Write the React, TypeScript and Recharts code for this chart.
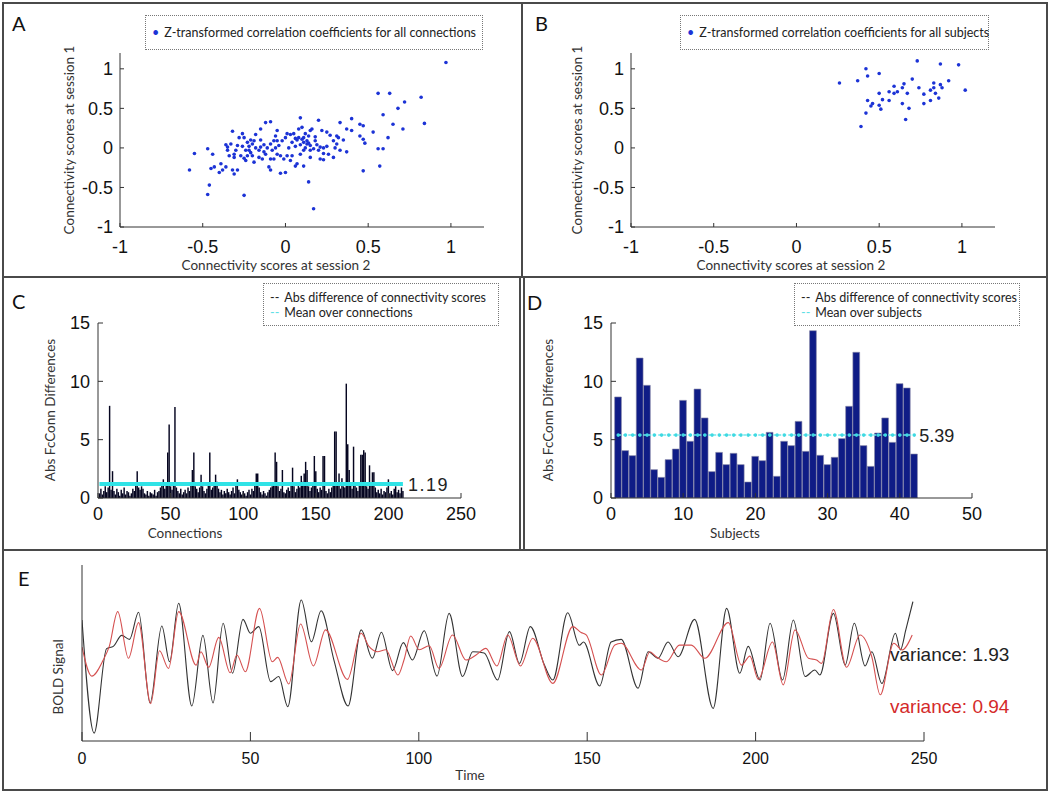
import React from 'react';
import {
  ScatterChart,
  Scatter,
  ComposedChart,
  Bar,
  Line,
  LineChart,
  XAxis,
  YAxis,
  Label,
  LabelList,
  Legend,
} from 'recharts';

// A: z-transformed correlation per connection, [session 2, session 1]
const connectionScores: [number, number][] = [
  [0.97, 1.08], [0.56, 0.69], [0.63, 0.69], [0.82, 0.64], [0.72, 0.58], [0.68, 0.5], [0.59, 0.42], [0.84, 0.31],
  [0.65, 0.3], [0.71, 0.24], [0.53, 0.2], [0.62, 0.13], [0.56, -0.01], [0.59, -0.01], [0.57, -0.23], [0.47, -0.29],
  [0.47, 0.11], [0.48, 0.06], [0.45, 0.15], [0.47, 0.28], [0.45, 0.3], [0.4, 0.37], [0.4, 0.22], [0.37, 0.24],
  [0.33, 0.32], [0.37, -0.05], [0.35, 0.1], [0.31, 0.15], [0.32, 0.13], [0.31, 0.05], [0.29, 0.09], [0.3, 0.0],
  [0.27, 0.16], [0.25, 0.2], [0.25, 0.02], [0.23, 0.0], [0.22, 0.22], [0.2, 0.35], [0.21, -0.14], [0.23, -0.15],
  [0.2, -0.03], [0.19, 0.04], [0.17, -0.01], [0.17, -0.77], [0.14, -0.43], [0.11, -0.23], [0.09, 0.38], [0.1, 0.26],
  [0.08, 0.24], [0.11, 0.13], [0.13, 0.09], [0.14, 0.15], [0.15, 0.22], [0.16, 0.24], [0.13, 0.05], [0.15, 0.03],
  [0.12, 0.0], [0.15, -0.12], [0.11, -0.03], [0.09, 0.04], [0.07, 0.1], [0.06, 0.02], [0.05, 0.18], [0.03, 0.17],
  [0.01, 0.18], [0.04, 0.07], [0.02, 0.0], [0.01, -0.1], [0.03, -0.16], [0.06, -0.23], [0.07, -0.2], [-0.01, -0.14],
  [0.0, -0.31], [-0.03, -0.32], [-0.03, -0.1], [-0.05, -0.08], [-0.05, 0.09], [-0.06, 0.0], [-0.07, 0.09], [-0.09, 0.33],
  [-0.12, 0.32], [-0.09, 0.05], [-0.11, 0.0], [-0.12, -0.08], [-0.09, -0.14], [-0.07, -0.14], [-0.1, -0.24], [-0.09, -0.28],
  [-0.14, -0.14], [-0.15, 0.1], [-0.15, 0.01], [-0.16, -0.03], [-0.18, 0.0], [-0.19, 0.09], [-0.2, 0.05], [-0.21, 0.1],
  [-0.22, -0.03], [-0.2, -0.1], [-0.19, -0.18], [-0.23, -0.1], [-0.24, -0.16], [-0.25, -0.13], [-0.24, -0.03], [-0.23, 0.07],
  [-0.25, 0.13], [-0.26, 0.02], [-0.28, 0.13], [-0.29, 0.03], [-0.3, -0.03], [-0.31, -0.08], [-0.31, -0.12], [-0.29, -0.28],
  [-0.31, -0.33], [-0.32, -0.28], [-0.32, 0.21], [-0.34, -0.1], [-0.35, 0.01], [-0.35, -0.03], [-0.36, 0.04], [-0.36, -0.24],
  [-0.38, -0.28], [-0.39, -0.2], [-0.4, -0.31], [-0.43, -0.24], [-0.44, -0.08], [-0.45, -0.26], [-0.47, -0.01], [-0.46, -0.47],
  [-0.47, -0.59], [-0.25, -0.6], [-0.55, -0.07], [-0.58, -0.28], [-0.15, 0.24], [-0.18, 0.17], [-0.26, 0.18], [-0.22, 0.02],
  [-0.13, 0.04], [-0.05, 0.22], [-0.02, 0.09], [0.09, -0.08], [0.04, -0.1], [0.23, -0.07], [0.26, -0.08], [0.29, -0.12],
  [0.33, -0.03], [0.18, 0.09], [0.21, 0.01], [0.15, -0.03], [0.11, 0.07], [0.08, 0.13], [-0.06, 0.15], [-0.08, -0.03],
  [-0.16, -0.12], [-0.27, -0.1], [0.12, 0.18], [0.1, 0.11], [0.14, 0.06], [0.18, 0.14], [0.06, 0.12], [-0.04, 0.03],
  [0.0, 0.13], [-0.13, -0.05], [-0.21, -0.06], [-0.33, 0.05],
];

// B: z-transformed correlation per subject, [session 2, session 1]
const subjectScores: [number, number][] = [
  [0.26, 0.82], [0.37, 0.85], [0.42, 1.0], [0.43, 0.91], [0.5, 0.94], [0.73, 1.1], [0.87, 1.06], [0.98, 1.05],
  [1.02, 0.73], [0.92, 0.85], [0.7, 0.87], [0.74, 0.76], [0.77, 0.68], [0.77, 0.56], [0.81, 0.73], [0.83, 0.82],
  [0.83, 0.76], [0.84, 0.69], [0.81, 0.6], [0.86, 0.63], [0.87, 0.8], [0.88, 0.76], [0.65, 0.81], [0.64, 0.76],
  [0.61, 0.71], [0.59, 0.78], [0.59, 0.69], [0.56, 0.71], [0.56, 0.6], [0.67, 0.69], [0.64, 0.56], [0.68, 0.5],
  [0.66, 0.36], [0.5, 0.69], [0.5, 0.54], [0.52, 0.61], [0.51, 0.49], [0.46, 0.56], [0.45, 0.53], [0.43, 0.6],
  [0.42, 0.44], [0.39, 0.27],
];

// C: abs difference per connection (1..210)
const connectionDiffs = [
  0.4, 0.8, 0.3, 0.6, 1.0, 0.5, 0.9, 7.9, 0.7, 2.3,
  0.6, 0.3, 0.8, 0.5, 0.2, 0.7, 0.4, 0.9, 0.3, 0.6,
  0.5, 0.2, 0.4, 0.8, 0.6, 1.1, 2.3, 0.9, 0.7, 1.0,
  0.8, 0.4, 0.3, 0.6, 0.2, 0.5, 0.4, 0.3, 0.7, 0.2,
  0.5, 0.6, 0.9, 1.2, 1.6, 0.8, 1.1, 3.9, 6.3, 1.0,
  0.7, 1.2, 7.8, 0.9, 0.6, 0.4, 0.8, 0.3, 0.5, 0.7,
  0.4, 0.9, 0.6, 1.3, 2.4, 3.9, 1.0, 0.8, 0.5, 0.9,
  2.0, 1.0, 0.6, 0.4, 0.8, 1.1, 3.9, 0.7, 0.9, 1.2,
  2.0, 1.4, 0.8, 0.5, 0.7, 0.3, 0.6, 0.4, 0.8, 0.5,
  0.3, 0.6, 0.9, 0.4, 1.2, 1.6, 0.7, 0.5, 0.3, 0.6,
  0.4, 0.2, 0.5, 0.7, 0.3, 0.8, 0.6, 1.1, 2.1, 2.1,
  0.9, 0.5, 0.3, 0.6, 0.4, 0.2, 0.5, 0.7, 0.9, 1.0,
  1.2, 3.9, 3.1, 1.0, 0.6, 0.8, 2.4, 0.5, 0.4, 0.7,
  0.9, 0.6, 1.1, 2.6, 1.0, 0.5, 0.8, 1.2, 0.9, 1.9,
  1.4, 2.1, 3.1, 2.4, 1.0, 0.6, 0.9, 1.3, 3.6, 2.3,
  0.8, 0.5, 0.9, 0.7, 3.6, 3.6, 0.6, 0.4, 0.8, 0.5,
  0.9, 1.3, 5.7, 5.7, 1.2, 2.1, 0.8, 1.7, 1.0, 0.9,
  9.8, 4.6, 2.4, 1.1, 0.8, 4.4, 1.3, 0.9, 0.6, 1.2,
  3.7, 3.7, 4.1, 3.9, 1.0, 0.8, 2.8, 1.1, 2.2, 2.2,
  0.9, 0.5, 0.7, 0.4, 0.8, 0.3, 0.6, 0.5, 0.9, 1.6,
  0.4, 0.6, 0.3, 0.8, 1.0, 0.5, 0.7, 0.4, 0.9, 0.6,
];
const connectionMean = 1.19;

// D: abs difference per subject (1..42)
const subjectDiffs = [
  8.66, 4.06, 3.63, 12.0, 9.66, 2.43, 1.77, 3.29, 4.2, 8.37,
  4.86, 9.34, 6.86, 2.26, 3.91, 2.86, 3.83, 2.86, 1.37, 3.57,
  3.2, 5.63, 1.86, 4.86, 4.49, 6.57, 4.0, 14.34, 3.66, 2.86,
  3.49, 5.09, 7.86, 12.49, 4.49, 2.71, 5.57, 6.86, 4.77, 9.8,
  9.43, 3.77,
];
const subjectMean = 5.39;

// E: BOLD signal turning points, [time, signal]
const boldSession1: [number, number][] = [
  [0, 1.5], [3.6, -3.64], [7.3, 0.2], [9.3, 0.3], [11.8, 0.8], [14.1, 0.62], [16.8, 1.85], [20.2, -2.27],
  [23.7, 1.23], [26, -0.4], [28.7, 2.26], [32.6, -2.41], [35.9, 0.8], [38.9, -2.27], [41.9, 1.35], [44.7, -0.92],
  [47.8, 1.53], [50, 0.9], [52.5, 1.2], [56, -1.3], [58.4, -1.07], [61.1, -2.44], [65.1, 2.41], [68.1, 0.51],
  [71, 1.92], [74.8, -0.32], [79, -2.41], [82.9, 1.05], [86.2, -0.24], [88.9, 0.94], [92.2, -0.8], [95.4, 0.47],
  [98.1, -0.32], [101.6, 1.01], [105.4, -1.05], [109, 1.8], [113, -1.07], [116, 0.06], [119.4, 0.0], [123.4, -1.23],
  [126.9, 0.97], [129.9, -0.47], [133.1, 1.2], [137.3, -0.55], [139.8, -1.23], [144.2, 1.83], [147.7, 0.35], [148.9, 0.5],
  [153.7, -1.5], [157.1, 0.5], [160.1, 0.62], [165.1, -1.6], [168.1, 0.06], [171, -0.24], [174, 0.5], [177, -0.17],
  [181.9, 1.53], [187.4, -2.52], [191.4, 2.03], [195.3, -0.92], [197.8, 0.3], [201.3, -1.23], [204.3, 1.35], [208, -1.23],
  [211.2, 1.5], [214.7, -1.07], [217.6, -0.77], [219.1, -1.0], [223.1, 1.8], [226.6, -0.55], [229.3, 1.35], [232.5, -0.59],
  [234.5, 0.06], [237.5, -1.38], [241.5, 0.9], [243, 0.14], [244.6, 1.05], [246.7, 2.33],
];
const boldSession2: [number, number][] = [
  [0, 0.27], [2.9, -1.05], [6.3, -0.32], [8.1, 0.3], [10.6, 1.88], [13.8, -0.24], [16.8, 1.38], [20.4, -2.3],
  [23, 0.1], [25.7, -0.7], [28.7, 1.88], [33.9, -0.55], [35.3, 0.06], [37.6, -0.65], [40.6, 0.71], [44, -0.9],
  [46, -0.09], [48.5, -0.85], [52.7, 2.03], [56.5, -0.4], [58.1, -0.2], [61.4, -1.41], [64.9, 1.32], [68.7, -0.59],
  [72.3, 1.05], [78.8, -1.2], [82.9, 0.9], [85.2, 0.3], [87.7, 0.06], [90.2, 0.15], [93.8, -1.0], [95.6, -0.32],
  [97.6, 0.77], [100.1, 0.15], [103.1, 0.33], [106, -0.7], [110, 0.82], [114, -0.32], [117, -0.09], [119.9, 0.21],
  [123.2, -0.59], [126.4, 0.82], [130.2, -0.59], [133.8, 0.67], [139.8, -1.38], [145.7, 1.2], [148.2, 0.93], [149.7, 0.82],
  [154.2, -1.0], [158.2, 0.36], [160.1, 0.44], [166.1, -0.77], [168.6, 0.06], [170.5, -0.17], [173.5, -0.4], [177.4, 0.36],
  [180.9, 0.36], [184.9, -0.24], [191.9, 1.38], [195.8, -0.55], [198.3, -0.14], [200.8, -1.2], [205, 0.5], [208.2, -1.45],
  [211.7, 1.05], [215.7, -0.24], [218.1, -0.32], [219.6, -0.47], [223.1, 1.98], [227, -0.65], [231, 0.82], [234.5, -0.17],
  [237, -1.9], [241, 0.44], [243.5, 0.14], [246.5, 0.82],
];
const varianceSession1 = 1.93;
const varianceSession2 = 0.94;

const scoreTicks = [-1, -0.5, 0, 0.5, 1];
const diffTicks = [0, 5, 10, 15];
const connTicks = [0, 50, 100, 150, 200, 250];
const subjTicks = [0, 10, 20, 30, 40, 50];
const timeTicks = [0, 50, 100, 150, 200, 250];

const SANS = '"Liberation Sans", Arial, sans-serif';
const TITLE = 'Lato, "Open Sans", sans-serif';
const tickFont = { fill: '#111', fontSize: 18, fontFamily: SANS };
const axisLine = { stroke: '#333' };

// axis title placed in chart coordinates
const title = (value: string, x: number, y: number, rotate = false) => (
  <Label
    content={() => (
      <text
        x={x}
        y={y}
        textAnchor="middle"
        dominantBaseline="central"
        transform={rotate ? `rotate(-90 ${x} ${y})` : undefined}
        style={{ fontFamily: TITLE, fontSize: 13.5, fill: '#333' }}
      >
        {value}
      </text>
    )}
  />
);

type LegendRow = { mark: string; color: string; text: string };
const LegendBox = ({ rows, width, height }: { rows: LegendRow[]; width: number; height: number }) => (
  <div
    style={{
      width,
      height,
      boxSizing: 'border-box',
      border: '1px dotted #777',
      background: '#fff',
      fontFamily: TITLE,
      fontSize: 12.5,
      color: '#222',
      display: 'flex',
      flexDirection: 'column',
      justifyContent: 'center',
      paddingLeft: 6,
    }}
  >
    {rows.map((r) => (
      <div key={r.text} style={{ lineHeight: '15px', whiteSpace: 'nowrap' }}>
        <span style={{ color: r.color, marginRight: 5 }}>{r.mark}</span>
        {r.text}
      </div>
    ))}
  </div>
);

const BlueDot = (props: any) => <circle cx={props.cx} cy={props.cy} r={1.8} fill="#1c33d6" />;

function ScatterPanel(props: {
  points: [number, number][];
  left: number;
  right: number;
  legendText: string;
  legendLeft: number;
  legendWidth: number;
  xTitle: [number, number];
  yTitle: [number, number];
}) {
  const data = props.points.map(([x, y]) => ({ x, y }));
  return (
    <ScatterChart width={props.left + props.right + 364} height={277} margin={{ top: 53, right: props.right, bottom: 0, left: props.left - 30 }}>
      <XAxis type="number" dataKey="x" domain={[-1, 1.2]} ticks={scoreTicks} allowDataOverflow height={50}
        tickSize={-4} tickMargin={17} tick={tickFont} axisLine={axisLine} tickLine={axisLine}>
        {title('Connectivity scores at session 2', props.xTitle[0], props.xTitle[1])}
      </XAxis>
      <XAxis xAxisId="top" orientation="top" type="number" domain={[-1, 1.2]} ticks={scoreTicks} allowDataOverflow
        height={0} tick={false} tickSize={-4} axisLine={axisLine} tickLine={axisLine} />
      <YAxis type="number" dataKey="y" domain={[-1, 1.2]} ticks={scoreTicks} allowDataOverflow width={30}
        tickSize={-4} tickMargin={11} tick={tickFont} axisLine={axisLine} tickLine={axisLine}>
        {title('Connectivity scores at session 1', props.yTitle[0], props.yTitle[1], true)}
      </YAxis>
      <YAxis yAxisId="right" orientation="right" type="number" domain={[-1, 1.2]} ticks={scoreTicks} allowDataOverflow
        width={0} tick={false} tickSize={-4} axisLine={axisLine} tickLine={axisLine} />
      <Scatter data={data} shape={BlueDot} isAnimationActive={false} />
      <Legend
        verticalAlign="middle"
        align="center"
        layout="horizontal"
        wrapperStyle={{ left: props.legendLeft, top: 15, width: props.legendWidth }}
        content={() => (
          <LegendBox width={props.legendWidth} height={35} rows={[{ mark: '•', color: '#1c33d6', text: props.legendText }]} />
        )}
      />
    </ScatterChart>
  );
}

function DiffPanel(props: {
  values: number[];
  mean: number;
  xMax: number;
  ticks: number[];
  left: number;
  right: number;
  barSize: number;
  barFill: string;
  barStroke?: string;
  dotted: boolean;
  xTitleText: string;
  xTitle: [number, number];
  yTitle: [number, number];
  legendLeft: number;
  legendWidth: number;
  legendMean: string;
}) {
  const last = props.values.length - 1;
  const rows = props.values.map((d, i) => ({
    id: i + 1,
    diff: d,
    mean: props.mean,
    meanText: i === last ? props.mean.toFixed(2) : undefined,
  }));
  const plotWidth = props.xMax === 250 ? 363 : 361;
  return (
    <ComposedChart data={rows} width={props.left + plotWidth + props.right} height={273}
      margin={{ top: 46, right: props.right, bottom: 0, left: props.left - 28 }}>
      <XAxis type="number" dataKey="id" domain={[0, props.xMax]} ticks={props.ticks} allowDataOverflow height={52}
        tickSize={-5} tickMargin={14} tick={tickFont} axisLine={axisLine} tickLine={axisLine}>
        {title(props.xTitleText, props.xTitle[0], props.xTitle[1])}
      </XAxis>
      <YAxis type="number" domain={[0, 15]} ticks={diffTicks} allowDataOverflow width={28}
        tickSize={-5} tickMargin={13} tick={tickFont} axisLine={axisLine} tickLine={axisLine}>
        {title('Abs FcConn Differences', props.yTitle[0], props.yTitle[1], true)}
      </YAxis>
      <Bar dataKey="diff" fill={props.barFill} stroke={props.barStroke} strokeWidth={props.barStroke ? 0.6 : 0}
        barSize={props.barSize} isAnimationActive={false} />
      <Line
        dataKey="mean"
        stroke={props.dotted ? '#6fe8ec' : '#2fe3e6'}
        strokeWidth={props.dotted ? 1.5 : 4}
        strokeDasharray={props.dotted ? '3 2' : undefined}
        dot={props.dotted ? { r: 1.8, fill: '#3fd9e2', stroke: 'none' } : false}
        isAnimationActive={false}
      >
        <LabelList dataKey="meanText" position="right" offset={5}
          style={{ fill: '#222', fontSize: 18, fontFamily: SANS, letterSpacing: props.dotted ? 0 : 1.5 }} />
      </Line>
      <Legend
        verticalAlign="middle"
        align="center"
        layout="horizontal"
        wrapperStyle={{ left: props.legendLeft, top: 6, width: props.legendWidth }}
        content={() => (
          <LegendBox
            width={props.legendWidth}
            height={43}
            rows={[
              { mark: '--', color: '#222', text: 'Abs difference of connectivity scores' },
              { mark: '--', color: '#5ee0e6', text: props.legendMean },
            ]}
          />
        )}
      />
    </ComposedChart>
  );
}

function BoldPanel() {
  const s1 = boldSession1.map(([t, v]) => ({ t, v }));
  const s2 = boldSession2.map(([t, v]) => ({ t, v }));
  return (
    <LineChart width={1050} height={245} margin={{ top: 15, right: 126, bottom: 0, left: 60 }}>
      <XAxis type="number" dataKey="t" domain={[0, 250]} ticks={timeTicks} allowDataOverflow height={54}
        tickSize={-9} tickMargin={21} tick={{ ...tickFont, fontSize: 16 }} axisLine={axisLine} tickLine={axisLine}>
        {title('Time', 470, 225)}
      </XAxis>
      <YAxis type="number" domain={[-4, 4]} ticks={[-4, 0, 4]} allowDataOverflow width={22}
        tick={false} tickSize={-8} axisLine={axisLine} tickLine={axisLine}>
        {title('BOLD Signal', 58, 127, true)}
      </YAxis>
      <Line data={s1} dataKey="v" type="monotone" stroke="#333" strokeWidth={1.1} dot={false} isAnimationActive={false} />
      <Line data={s2} dataKey="v" type="monotone" stroke="#d55050" strokeWidth={1.1} dot={false} isAnimationActive={false} />
    </LineChart>
  );
}

const frame = (left: number, top: number, width: number, height: number) => ({
  position: 'absolute' as const,
  left,
  top,
  width,
  height,
  border: '2px solid #4a4a4a',
  boxSizing: 'border-box' as const,
});

const letter = (left: number, top: number) => ({
  position: 'absolute' as const,
  left,
  top,
  fontFamily: TITLE,
  fontSize: 20,
  lineHeight: '20px',
  color: '#111',
});

export default function App() {
  return (
    <div style={{ position: 'relative', width: 1050, height: 795, background: '#fff', overflow: 'hidden', fontFamily: SANS }}>
      <style>{'body{margin:0}'}</style>
      <div style={frame(2, 2, 521, 276)} />
      <div style={frame(521, 2, 527, 276)} />
      <div style={frame(2, 276, 519, 275)} />
      <div style={frame(523, 276, 525, 275)} />
      <div style={frame(2, 549, 1046, 242)} />

      <div style={letter(12, 13)}>A</div>
      <div style={letter(535, 13)}>B</div>
      <div style={letter(12, 291)}>C</div>
      <div style={letter(527, 292)}>D</div>
      <div style={letter(18, 568)}>E</div>

      <div style={{ position: 'absolute', left: 0, top: 0 }}>
        <ScatterPanel points={connectionScores} left={120} right={38} legendText="Z-transformed correlation coefficients for all connections"
          legendLeft={145} legendWidth={338} xTitle={[276, 265]} yTitle={[69, 140]} />
      </div>
      <div style={{ position: 'absolute', left: 522, top: 0 }}>
        <ScatterPanel points={subjectScores} left={109} right={53} legendText="Z-transformed correlation coefficients for all subjects"
          legendLeft={158} legendWidth={309} xTitle={[269, 265]} yTitle={[55, 140]} />
      </div>
      <div style={{ position: 'absolute', left: 0, top: 277 }}>
        <DiffPanel values={connectionDiffs} mean={connectionMean} xMax={250} ticks={connTicks} left={98} right={61}
          barSize={1.45} barFill="#050520" dotted={false} xTitleText="Connections" xTitle={[185, 256]} yTitle={[50, 133]}
          legendLeft={263} legendWidth={236} legendMean="Mean over connections" />
      </div>
      <div style={{ position: 'absolute', left: 522, top: 277 }}>
        <DiffPanel values={subjectDiffs} mean={subjectMean} xMax={50} ticks={subjTicks} left={89} right={75}
          barSize={6.8} barFill="#0f1c86" barStroke="#8a8aa8" dotted xTitleText="Subjects" xTitle={[213, 256]} yTitle={[26, 133]}
          legendLeft={272} legendWidth={226} legendMean="Mean over subjects" />
      </div>
      <div style={{ position: 'absolute', left: 0, top: 550 }}>
        <BoldPanel />
      </div>

      <div style={{ position: 'absolute', left: 890, top: 644, fontSize: 19, lineHeight: '22px', color: '#222' }}>
        variance: {varianceSession1}
      </div>
      <div style={{ position: 'absolute', left: 890, top: 696, fontSize: 19, lineHeight: '22px', color: '#d42a2a' }}>
        variance: {varianceSession2}
      </div>
    </div>
  );
}
